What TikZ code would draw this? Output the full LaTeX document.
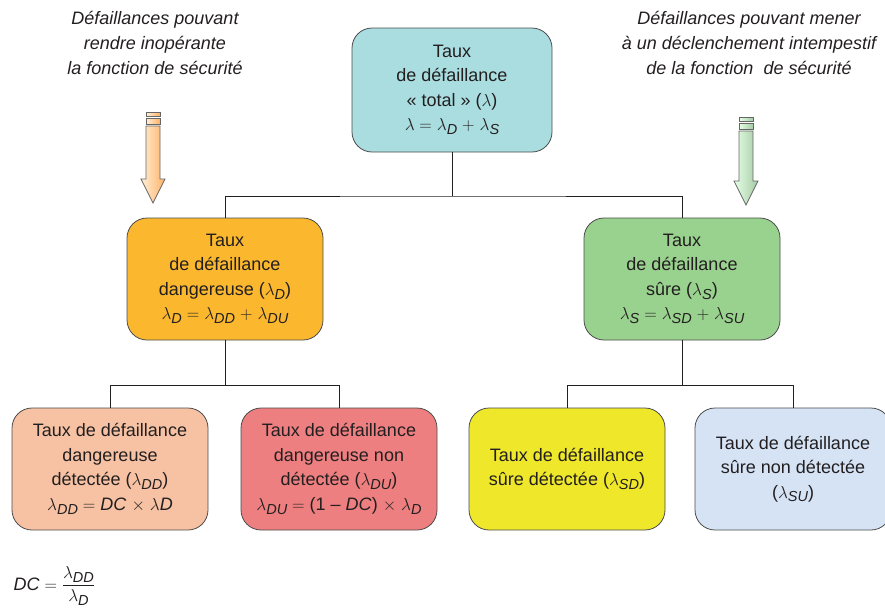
\documentclass[tikz,border=0pt]{standalone}
\usepackage{amsmath}
\usepackage{fontspec}
\setmainfont{Liberation Sans}
\usepackage{tikz}
\usetikzlibrary{positioning}

\definecolor{texte}{HTML}{231F20}
\definecolor{bleutot}{HTML}{A9DDE0}
\definecolor{orangedang}{HTML}{FBB82E}
\definecolor{vertsur}{HTML}{99D18E}
\definecolor{peche}{HTML}{F6C2A3}
\definecolor{rouge}{HTML}{ED7F80}
\definecolor{jaune}{HTML}{EEE72A}
\definecolor{bleuclair}{HTML}{D5E3F5}

\newcommand{\lam}[1]{$\lambda$\raisebox{-0.4ex}{\fontsize{14.5}{14.5}\selectfont\itshape #1}}

\begin{document}
\begin{tikzpicture}[x=1pt, y=-1pt,
    every node/.style={font=\fontsize{18}{24.5}\selectfont, text=texte},
    boite/.style={draw=black!70, line width=0.8pt, rounded corners=20pt,
                  minimum width=196pt, minimum height=122pt, align=center,
                  inner sep=2pt},
    note/.style={font=\fontsize{18}{25}\selectfont\itshape, align=center},
    lien/.style={draw=texte, line width=0.7pt},
    fleche/.style={draw=black!60, line width=0.8pt},
  ]
  \useasboundingbox (0,0) rectangle (885,614);

  % Boites
  \node[boite, fill=bleutot, minimum width=200pt, minimum height=124pt] (total) at (452,90)
    {Taux\\de défaillance\\« total » ($\lambda$)\\$\lambda =$ \lam{D} $+$ \lam{S}};
  \node[boite, fill=orangedang] (dang) at (225,279)
    {Taux\\de défaillance\\dangereuse (\lam{D})\\\lam{D} $=$ \lam{DD} $+$ \lam{DU}};
  \node[boite, fill=vertsur] (sure) at (682,279)
    {Taux\\de défaillance\\sûre (\lam{S})\\\lam{S} $=$ \lam{SD} $+$ \lam{SU}};
  \node[boite, fill=peche] (dd) at (110,469)
    {Taux de défaillance\\dangereuse\\détectée (\lam{DD})\\\lam{DD} $=$ \textit{DC} $\times$ \textit{$\lambda$D}};
  \node[boite, fill=rouge] (du) at (339,469)
    {Taux de défaillance\\dangereuse non\\détectée (\lam{DU})\\\lam{DU} $=$ (1 -- \textit{DC}) $\times$ \lam{D}};
  \node[boite, fill=jaune] (sd) at (567,469)
    {Taux de défaillance\\sûre détectée (\lam{SD})};
  \node[boite, fill=bleuclair] (su) at (793,469)
    {Taux de défaillance\\sûre non détectée\\(\lam{SU})};

  % Liaisons
  \coordinate (n1) at (452,196);
  \coordinate (n2) at (225,385);
  \coordinate (n3) at (682,385);
  \draw[lien] (total.south) -- (n1);
  \draw[lien] (dang.north) |- (n1) -| (sure.north);
  \draw[lien] (dang.south) -- (n2);
  \draw[lien] (dd.north) |- (n2) -| (du.north);
  \draw[lien] (sure.south) -- (n3);
  \draw[lien] (sd.north) |- (n3) -| (su.north);

  % Annotations
  \node[note] (noteg) at (155,43)
    {Défaillances pouvant\\rendre inopérante\\la fonction de sécurité};
  \node[note] (noted) at (749,43)
    {Défaillances pouvant mener\\à un déclenchement intempestif\\de la fonction\ \ de sécurité};

  % Fleches epaisses
  \foreach \cx/\haut/\tip/\clair/\fonce in {153/112/203/yellow!15!orange!15/orange!60, 746/117/205/green!10/green!40!black!35} {
    \pgfmathsetmacro{\base}{\tip-24}
    \fill[left color=\clair, right color=\fonce]
      (\cx-7,\haut) rectangle (\cx+7,\haut+4);
    \fill[left color=\clair, right color=\fonce]
      (\cx-7,\haut+6) rectangle (\cx+7,\haut+12);
    \draw[fleche] (\cx-7,\haut) rectangle (\cx+7,\haut+4);
    \draw[fleche] (\cx-7,\haut+6) rectangle (\cx+7,\haut+12);
    \draw[fleche, left color=\clair, right color=\fonce]
      (\cx-7,\haut+14) -- (\cx-7,\base) -- (\cx-12,\base) -- (\cx,\tip)
      -- (\cx+12,\base) -- (\cx+7,\base) -- (\cx+7,\haut+14) -- cycle;
  }

  % Formule DC
  \node[anchor=west, font=\fontsize{18}{20}\selectfont] (formule) at (10,586)
    {\textit{DC} $=\dfrac{\text{\lam{DD}}}{\text{\lam{D}}}$};
\end{tikzpicture}
\end{document}
